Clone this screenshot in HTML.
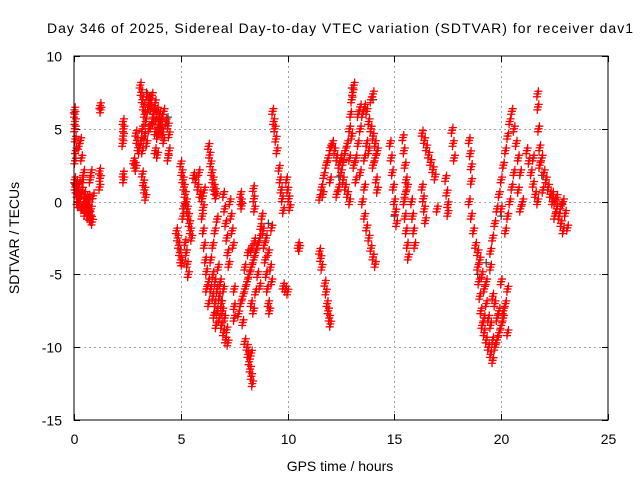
<!DOCTYPE html>
<html><head><meta charset="utf-8"><style>
body{margin:0;background:#fff}
svg{display:block;font-family:"Liberation Sans",sans-serif}
</style></head><body>
<svg id="chart" width="640" height="480" viewBox="0 0 640 480" xmlns="http://www.w3.org/2000/svg">
<rect width="640" height="480" fill="#fff"/>
<text x="340" y="33" font-size="14" text-anchor="middle" textLength="586">Day 346 of 2025, Sidereal Day-to-day VTEC variation (SDTVAR) for receiver dav1</text>
<text x="340" y="471" font-size="14" text-anchor="middle">GPS time / hours</text>
<text x="0" y="0" font-size="14" text-anchor="middle" transform="translate(19,238) rotate(-90)">SDTVAR / TECUs</text>
<g id="grid"></g>
<g id="ticks"></g>
<g id="gray"></g>
<g id="red"></g>
<rect x="74" y="56" width="534" height="364" fill="none" stroke="#000" stroke-width="1"/>
</svg>
<script>
const xTicks=[0,5,10,15,20,25];
const yTicks=[10,5,0,-5,-10,-15];
const track01=[[0.02,6.3],[0.03,6],[0.05,5.5],[0.04,5],[0.06,4.3],[0.08,3.5],[0.05,2.8],[0.03,1.5],[0.06,1],[0.1,0.8],[0.12,1.3],[0.15,0.5],[0.2,-0.2],[0.25,0.5],[0.3,0.2],[0.35,-0.4],[0.4,-0.3],[0.3,4.2],[0.35,3],[0.4,1.5],[0.45,2],[0.5,0.5],[0.55,0],[0.6,-0.5],[0.65,-1],[0.7,-0.8],[0.75,-1.1],[0.8,-1.2],[0.85,-1.4],[0.7,0.3],[0.75,1.5],[0.8,2],[0.5,-0.8],[0.45,-0.2],[0.55,-0.6],[0.6,0.2],[0.7,-0.2],[0.8,-0.5],[0.22,3.8],[0.9,0.4],[0.25,1.2],[0.15,0],[0.38,0.8]];
const track02=[[1.22,6.6],[1.25,6.3],[1.2,2.1],[1.22,1.6],[1.2,1.0],[2.3,5.5],[2.32,5],[2.3,4.5],[2.28,4],[2.3,1.9],[2.32,1.5],[2.8,2.8],[2.85,2.5],[2.9,2.3],[2.9,4.7],[2.95,4.2],[3.0,3.7],[3.05,3.5]];
const track03=[[3.1,8],[3.15,7.5],[3.2,7],[3.25,6.5],[3.3,6],[3.35,5.5],[3.4,7.2],[3.5,7],[3.6,6.5],[3.7,6],[3.8,6.8],[3.9,6.3],[4.0,6],[4.1,5.8],[4.2,6.2],[4.3,5.5],[4.4,5.2],[4.45,4.6],[4.45,3.5],[4.4,3],[3.3,4.5],[3.4,4],[3.5,5],[3.6,5.2],[3.7,5.5],[3.8,4.8],[3.9,4.5],[4.0,4.9],[4.1,5],[3.2,5],[3.15,4.2],[3.2,3.5],[3.2,1.9],[3.25,1.3],[3.3,0.8],[3.35,0.3],[3.45,6.3],[3.55,6.8],[3.65,7.3],[3.75,6.2],[3.85,5.8],[3.95,5.3],[4.05,5.5],[4.15,4.6],[3.8,3.5],[3.9,3.2],[4.2,4.2]];
const track04=[[4.8,-2],[4.85,-2.5],[4.9,-3],[4.95,-3.5],[5.0,-4],[5.05,-4.2],[5.0,2.6],[5.05,2],[5.1,1.5],[5.15,1],[5.2,0.5],[5.25,0],[5.3,-0.5],[5.35,-1],[5.4,-1.5],[5.45,-2],[5.5,-2.5],[5.1,-1],[5.15,-0.3],[5.2,-2.8],[5.25,-3.5],[5.3,-4.3],[5.35,-5],[5.6,1.8],[5.7,1.5],[5.8,1],[5.9,0.5],[6.0,0.2],[6.05,-0.4],[5.85,2],[6.1,0.8]];
const track05=[[6.3,3.8],[6.35,3.2],[6.4,2.6],[6.45,2],[6.5,1.5],[6.55,1],[6.6,0.7],[6.65,0.4],[6.0,-1],[6.05,-2],[6.1,-3],[6.15,-4],[6.2,-4.8],[6.3,-5.5],[6.4,-6],[6.5,-6.5],[6.6,-7],[6.7,-7.5],[6.8,-8],[6.9,-8.5],[7.0,-9],[7.1,-9.5],[7.2,-9.7],[6.5,-5],[6.6,-5.5],[6.7,-6],[6.8,-6.5],[6.9,-7],[7.0,-6],[6.4,-4],[6.5,-3],[6.6,-2],[6.7,-1.2],[6.75,-4.5],[6.85,-5.5],[6.95,-7.5],[7.05,-8],[6.55,-7.8],[6.65,-8.5],[7.15,-8.8],[6.2,-6],[6.3,-7],[7.0,0.5],[7.05,-0.5],[7.1,-1.5],[7.15,-2.5],[7.2,-3.5],[7.25,-4.3],[7.3,0],[7.35,-1],[7.4,-2],[7.45,-3],[7.5,-6],[7.5,-7.2],[7.5,-8]];
const track06=[[7.8,0.5],[7.82,0],[7.85,-0.3],[8.4,0.9],[8.42,0.2],[8.45,-0.5],[7.7,-7.7],[7.8,-7],[7.9,-6.5],[8.0,-6],[8.1,-5.5],[8.2,-5],[8.3,-4.5],[8.4,-4],[8.5,-3.5],[8.6,-3],[8.7,-2.5],[8.75,-1.7],[8.0,-4.5],[8.15,-3.5],[8.3,-3.2],[8.45,-2.7],[8.3,-7],[8.4,-7.5],[8.5,-6.2],[8.0,-9.6],[8.1,-10],[8.15,-10.5],[8.2,-11],[8.25,-11.5],[8.3,-12],[8.35,-12.5],[8.3,-10.4],[7.9,-8.3],[8.6,-5],[8.7,-5.8]];
const track07=[[8.8,-1],[8.85,-2],[8.9,-3],[8.95,-4],[9.0,-5],[9.05,-6],[9.1,-7],[9.15,-7.5],[9.0,-2.5],[9.1,-3.5],[9.2,-4.5],[9.25,-1.8],[9.25,-5.5],[9.3,6.2],[9.35,5.5],[9.4,5],[9.45,4.3],[9.5,3.5],[9.6,2.3],[9.65,1.5],[9.7,0.8],[9.75,0.2],[9.8,-0.6],[9.8,-5.8],[9.9,-6],[10.0,-6.2],[9.95,1.5],[10.0,0.8],[10.05,0.2],[10.1,-0.4],[10.5,-3],[10.55,-3.2]];
const track08=[[11.5,-3.4],[11.55,-3.9],[11.6,-4.5],[11.75,-5.6],[11.8,-6.2],[11.85,-7],[11.9,-7.5],[11.95,-8],[12.0,-8.4],[11.5,0.3],[11.6,1],[11.7,1.8],[11.8,2.5],[11.9,3],[12.0,3.7],[12.0,1.5],[11.65,0.5]];
const track09=[[12.1,4],[12.2,3.5],[12.3,3],[12.4,2.5],[12.5,2],[12.6,1.5],[12.7,1],[12.8,0.5],[12.9,0],[12.3,0.5],[12.4,1],[12.5,3],[12.6,2.7],[12.7,3.5],[12.8,4],[12.9,5],[12.95,6],[13.0,7],[13.05,7.5],[13.1,8],[13.0,4.5],[12.9,3],[13.1,2.5],[13.2,3],[13.3,4],[13.4,5],[13.5,6],[13.6,6.5],[13.7,6.2],[13.8,5.5],[13.9,5],[14.0,4.5],[14.1,4],[13.2,1.5],[13.4,2],[13.6,3],[13.8,3.5],[14.0,2.5],[14.1,3],[14.2,3.5],[13.5,0],[13.6,-1],[13.7,-1.8],[13.8,-2.5],[13.9,-3.2],[14.0,-3.8],[14.1,-4.3],[13.6,1],[13.7,4],[13.3,6],[13.4,6.5],[14.2,0.8],[14.15,1.5],[14.0,7.4],[13.9,7]];
const track10=[[14.8,4],[14.85,3],[14.9,2],[14.95,1],[15.0,0],[15.05,-0.7],[15.1,-1.5],[15.4,4.4],[15.45,3.5],[15.5,2.5],[15.55,1.5],[15.6,1],[15.5,0.5],[15.45,0],[15.5,-1],[15.55,-2],[15.6,-3],[15.65,-3.8],[15.8,0],[15.85,-1],[15.9,-2],[15.95,-3],[16.3,4.7],[16.4,4.2],[16.5,3.7],[16.6,3.2],[16.7,2.7],[16.8,2.2],[16.9,1.7],[16.3,1],[16.35,0.2],[16.4,-0.5],[16.45,-1.3],[17.0,-0.5],[17.4,1.6],[17.45,0.6],[17.5,-0.2],[17.5,-0.8],[17.7,4.9],[17.75,4],[17.8,3]];
const track11=[[18.5,4.2],[18.55,3.3],[18.6,2.4],[18.6,1.4],[18.5,0],[18.6,-1],[18.7,-2],[18.8,-3],[18.9,-3.5],[18.9,-4.5],[18.95,-5.5],[19.0,-6.5],[19.05,-7.5],[19.1,-8.5],[19.2,-9],[19.3,-9.5],[19.4,-10],[19.5,-10.5],[19.6,-10.9],[19.0,-4],[19.1,-5],[19.2,-6],[19.3,-7],[19.4,-8],[19.5,-8.5],[19.6,-9.5],[19.7,-10],[19.8,-8],[19.9,-7.5],[20.0,-8.5],[20.1,-8],[20.2,-7],[20.3,-6],[20.3,-9],[19.6,-6.5],[19.7,-7],[19.8,-9.5],[19.5,-4.5],[19.3,-5.5],[19.2,-8],[20.0,-5.5],[20.1,-7.5],[19.9,-9]];
const track12=[[19.5,-3.4],[19.6,-2.5],[19.7,-1.5],[19.8,-0.5],[19.9,0.5],[20.0,1.5],[20.1,2.5],[20.2,3.5],[20.3,4.5],[20.4,5.5],[20.5,6.2],[20.6,5],[20.7,4],[20.8,3],[20.9,2],[20.2,-2],[20.3,-1],[20.4,0],[20.5,1],[20.6,2],[20.0,-0.5],[20.9,-0.5],[21.0,0],[20.8,0.8]];
const track13=[[21.7,7.4],[21.72,6.5],[21.75,5],[21.8,3.7],[21.2,3.5],[21.3,2.8],[21.4,2],[21.5,1.2],[21.6,0.5],[21.7,0],[21.8,2.5],[21.9,3],[22.0,2],[22.1,1.5],[22.2,1],[22.3,0.5],[22.4,0],[21.5,3],[21.95,0.8],[22.4,0.5],[22.5,0],[22.6,-0.5],[22.7,-1],[22.8,-1.5],[22.9,-2],[22.6,0.3],[22.8,-0.3],[23.0,-0.8],[23.1,-1.8],[22.5,-1],[22.9,0]];
const grayPoints=[[0.05,1.2],[3.4,7.5],[5.1,-0.5],[6.9,-6.8],[9.1,-1.5],[13.0,7.8],[14.0,7],[15.0,-1],[18.9,-5],[20.0,-1],[21.9,1.8],[4.4,5.8],[12.4,1.7],[19.3,-4.2]];
const redTracks=[track01,track02,track03,track04,track05,track06,track07,track08,track09,track10,track11,track12,track13];

const NS='http://www.w3.org/2000/svg';
const X0=74,X1=608,Y0=420,Y1=56;
function sx(t){return X0+(t-0)/(25-0)*(X1-X0);}
function sy(v){return Y0-(v-(-15))/(10-(-15))*(Y0-Y1);}
const grid=document.getElementById('grid'),ticks=document.getElementById('ticks'),svg=document.getElementById('chart');
function line(g,x1,y1,x2,y2,st,dash){const l=document.createElementNS(NS,'line');l.setAttribute('x1',x1);l.setAttribute('y1',y1);l.setAttribute('x2',x2);l.setAttribute('y2',y2);l.setAttribute('stroke',st);l.setAttribute('stroke-width',1);if(dash)l.setAttribute('stroke-dasharray',dash);g.appendChild(l);return l;}
function label(x,y,s,anchor){const t=document.createElementNS(NS,'text');t.setAttribute('x',x);t.setAttribute('y',y);t.setAttribute('font-size','14');t.setAttribute('text-anchor',anchor);t.textContent=s;svg.appendChild(t);return t;}
xTicks.forEach(v=>{const x=Math.round(sx(v))+0.5;
 if(v>0&&v<25){const g=line(grid,x,Y1,x,Y0,'#a0a0a0','2,3');}
 line(ticks,x,Y0,x,Y0-6,'#000');line(ticks,x,Y1,x,Y1+6,'#000');
 const t=label(x,444,String(v),'middle');
 
 });
yTicks.forEach(v=>{const y=Math.round(sy(v))+0.5;
 if(v<10&&v>-15){const g=line(grid,X0,y,X1,y,'#a0a0a0','2,3');}
 line(ticks,X0,y,X0+6,y,'#000');line(ticks,X1,y,X1-6,y,'#000');
 const t=label(62,y+5,String(v),'end');
 
 });
function plus(g,t,v,color,name){const x=sx(t),y=sy(v);const p=document.createElementNS(NS,'path');
 p.setAttribute('d','M'+(x-4)+' '+y+'H'+(x+4)+'M'+x+' '+(y-4)+'V'+(y+4));
 p.setAttribute('stroke',color);p.setAttribute('stroke-width','1.3');
 
 
 g.appendChild(p);}
const gg=document.getElementById('gray');
grayPoints.forEach(d=>plus(gg,d[0],d[1],'#404040','reference-point'));
const rg=document.getElementById('red');
redTracks.forEach(tr=>tr.forEach(d=>{plus(rg,d[0],d[1],'#ff0000','sdtvar-point');plus(rg,d[0]+0.04,d[1]+0.18,'#ff0000','sdtvar-point');plus(rg,d[0]-0.03,d[1]-0.2,'#ff0000','sdtvar-point');}));
</script>
</body></html>
